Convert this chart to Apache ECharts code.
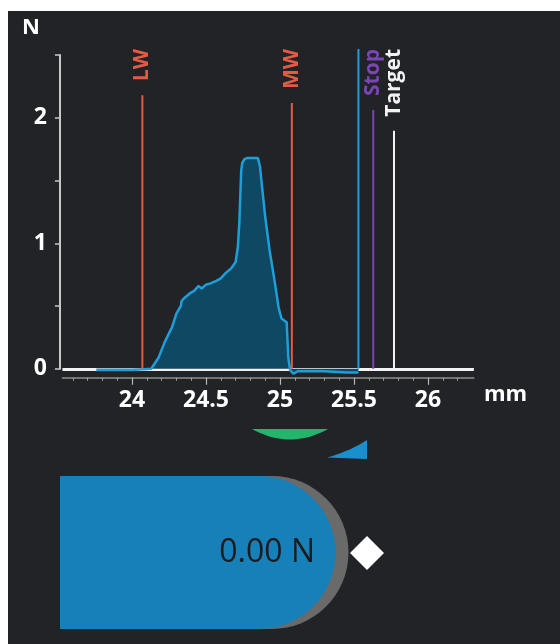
<!DOCTYPE html>
<html><head><meta charset="utf-8">
<script src="https://cdn.jsdelivr.net/npm/echarts@6/dist/echarts.min.js"></script>
<style>
html,body{margin:0;padding:0;background:#ffffff;width:560px;height:644px;overflow:hidden}
#chart{position:absolute;left:8px;top:11px;width:552px;height:633px}
</style>
</head><body><div id="chart"></div>
<script>
// ---- data ----
const positionMm = [23.76, 24.0, 24.13, 24.18, 24.22, 24.27, 24.30, 24.33, 24.335, 24.35, 24.39, 24.42, 24.45, 24.47, 24.50, 24.53, 24.57, 24.60, 24.63, 24.67, 24.70, 24.715, 24.725, 24.733, 24.738, 24.745, 24.76, 24.78, 24.81, 24.85, 24.865, 24.876, 24.90, 24.93, 24.966, 24.99, 25.01, 25.045, 25.056, 25.068, 25.09, 25.12, 25.30, 25.45, 25.53];
const forceN = [-0.01, -0.01, 0.0, 0.09, 0.21, 0.33, 0.44, 0.50, 0.54, 0.56, 0.60, 0.62, 0.66, 0.64, 0.67, 0.68, 0.70, 0.72, 0.76, 0.80, 0.85, 0.97, 1.16, 1.42, 1.58, 1.64, 1.67, 1.68, 1.68, 1.68, 1.61, 1.48, 1.21, 0.94, 0.68, 0.49, 0.40, 0.37, 0.09, -0.01, -0.04, -0.02, -0.02, -0.03, -0.03];
const markerNames = ['LW', 'MW', '', 'Stop', 'Target'];
const markerPositions = [24.07, 25.08, 25.53, 25.63, 25.77];
const markerColors = ['#e35b45', '#e35b45', '#1e9fda', '#7b45b6', '#f2f2f2'];
const xLabelTicks = [24, 24.5, 25, 25.5, 26];
const yLabelTicks = [0, 1, 2];
const currentForceN = 0.00;

// ---- helpers ----
const FONT = '"Open Sans", "DejaVu Sans", sans-serif';
const xMinorTicks = [];
for (let v = 236; v <= 262; v++) xMinorTicks.push(v / 10);
const measureCtx = document.createElement('canvas').getContext('2d');
const labelFont = 'bold 21px ' + FONT;

// quadratic curve sampled into polygon points (decorative shapes)
function quadPoints(p0, c, p1, n) {
  const pts = [];
  for (let k = 0; k <= n; k++) {
    const t = k / n, a = (1 - t) * (1 - t), b = 2 * (1 - t) * t, d = t * t;
    pts.push([a * p0[0] + b * c[0] + d * p1[0], a * p0[1] + b * c[1] + d * p1[1]]);
  }
  return pts;
}
const lensPts = [[244, 418], [320, 418]].concat(quadPoints([320, 418], [282, 439], [244, 418], 24).slice(1));
const wedgePts = quadPoints([319, 446.5], [342, 440], [359, 429], 12).concat([[359, 448]]);

const chart = echarts.init(document.getElementById('chart'), null, {renderer: 'canvas'});

const option = {
  backgroundColor: '#212327',
  animation: false,
  grid: {left: 54.44, right: 86.1, top: 44, bottom: 275.25, containLabel: false},
  xAxis: [
    {
      type: 'value', position: 'bottom', min: 23.53, max: 26.31, offset: 9,
      axisLine: {show: true, onZero: false, lineStyle: {color: '#8e8e8e', width: 1.5}},
      axisTick: {show: true, customValues: xMinorTicks, length: 3, lineStyle: {color: '#a0a0a0', width: 1}},
      axisLabel: {show: false},
      splitLine: {show: false}
    },
    {
      type: 'value', position: 'bottom', min: 23.53, max: 26.31, offset: 9,
      axisLine: {show: false, onZero: false},
      axisTick: {show: true, customValues: xLabelTicks, length: 7, lineStyle: {color: '#b8b8b8', width: 1.2}},
      axisLabel: {show: true, customValues: xLabelTicks, color: '#ffffff', fontSize: 23, fontWeight: 'bold', fontFamily: FONT, margin: 11},
      splitLine: {show: false},
      name: 'mm', nameLocation: 'end', nameGap: 10,
      nameTextStyle: {color: '#ffffff', fontSize: 22, fontWeight: 'bold', fontFamily: FONT, verticalAlign: 'top', padding: [6, 0, 0, 0]}
    }
  ],
  yAxis: {
    type: 'value', min: 0, max: 2.5, interval: 0.5, offset: 2.5,
    axisLine: {show: true, onZero: false, lineStyle: {color: '#c8c8c8', width: 2}},
    axisTick: {show: true, length: 5, lineStyle: {color: '#c8c8c8', width: 1.5}},
    axisLabel: {
      color: '#ffffff', fontSize: 23, fontWeight: 'bold', fontFamily: FONT, margin: 13,
      formatter: v => (yLabelTicks.indexOf(v) >= 0 ? String(v) : '')
    },
    splitLine: {show: true, lineStyle: {color: ['#f2f2f2', 'rgba(0,0,0,0)', 'rgba(0,0,0,0)', 'rgba(0,0,0,0)', 'rgba(0,0,0,0)', 'rgba(0,0,0,0)'], width: 3}},
    name: 'N', nameLocation: 'end', nameGap: 27,
    nameTextStyle: {color: '#ffffff', fontSize: 22, fontWeight: 'bold', fontFamily: FONT, align: 'right', verticalAlign: 'middle', padding: [0, 20, 0, 0]}
  },
  series: [
    {
      type: 'line', xAxisIndex: 0, yAxisIndex: 0,
      data: positionMm.map((x, i) => [x, forceN[i]]),
      showSymbol: false, symbol: 'none', clip: false, z: 2,
      lineStyle: {color: '#1e9fda', width: 2.5},
      areaStyle: {color: '#0f4862', opacity: 1}
    },
    {
      type: 'custom', xAxisIndex: 0, yAxisIndex: 0, clip: false, z: 3,
      data: markerPositions.map(x => [x, 0]),
      encode: {x: 0, y: 1},
      renderItem: function (params, api) {
        const i = params.dataIndex;
        const base = api.coord([api.value(0), 0]);
        const labelTop = params.coordSys.y - 6;
        const name = markerNames[i];
        let lineTop = labelTop;
        const children = [];
        if (name) {
          measureCtx.font = labelFont;
          const w = measureCtx.measureText(name).width;
          lineTop = labelTop + w + 14;
          children.push({
            type: 'text', x: base[0], y: labelTop, rotation: Math.PI / 2,
            style: {text: name, fill: markerColors[i], font: labelFont, align: 'right', verticalAlign: 'middle'}
          });
        }
        children.push({
          type: 'line',
          shape: {x1: base[0], y1: base[1], x2: base[0], y2: lineTop},
          style: {stroke: markerColors[i], lineWidth: 2}
        });
        return {type: 'group', children: children};
      }
    }
  ],
  graphic: [
    {type: 'polygon', shape: {points: lensPts}, style: {fill: '#22b56b'}},
    {type: 'polygon', shape: {points: wedgePts}, style: {fill: '#1a8fd0'}},
    {type: 'rect', shape: {x: 65, y: 465, width: 199, height: 153}, style: {fill: '#6a6a6a'}},
    {type: 'circle', shape: {cx: 264, cy: 541.5, r: 76.5}, style: {fill: '#6a6a6a'}},
    {type: 'rect', shape: {x: 52, y: 465, width: 199, height: 153}, style: {fill: '#1780b9'}},
    {type: 'circle', shape: {cx: 251, cy: 541.5, r: 76.5}, style: {fill: '#1780b9'}},
    {type: 'text', x: 307, y: 542, style: {text: currentForceN.toFixed(2) + ' N', fill: '#1b1b1b', font: '32px ' + FONT, align: 'right', verticalAlign: 'middle'}},
    {type: 'polygon', shape: {points: [[359, 525], [376, 542], [359, 559], [342, 542]]}, style: {fill: '#ffffff'}}
  ]
};
chart.setOption(option);
</script>
</body></html>
